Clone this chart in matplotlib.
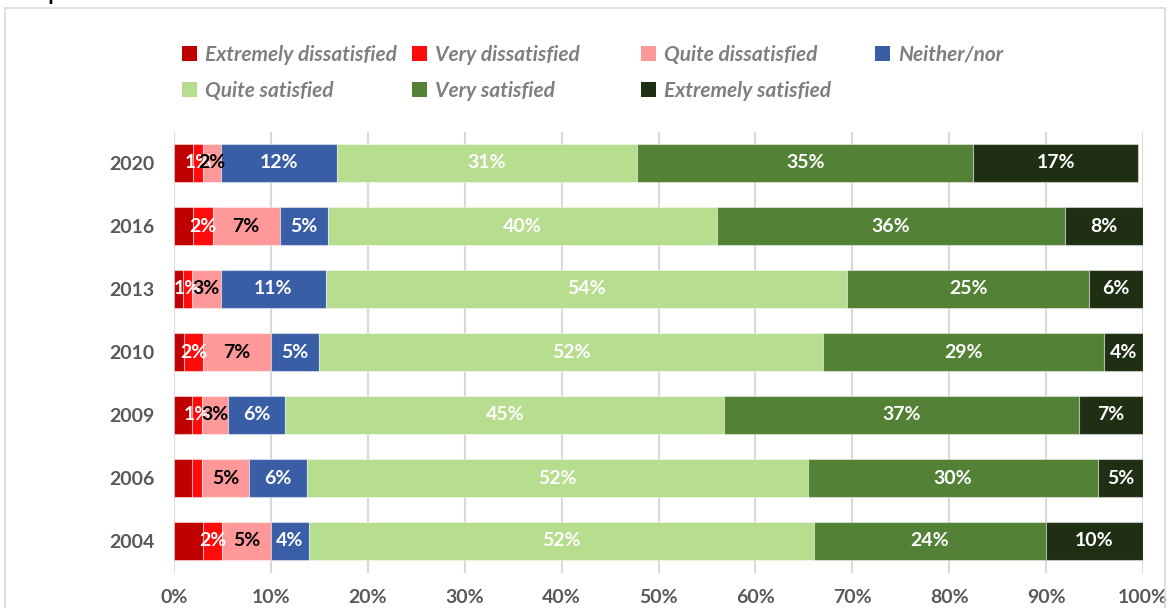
import matplotlib

matplotlib.use("Agg")
import matplotlib.pyplot as plt
from matplotlib.patches import Patch, Rectangle

years = ["2004", "2006", "2009", "2010", "2013", "2016", "2020"]

series_names = [
    "Extremely dissatisfied",
    "Very dissatisfied",
    "Quite dissatisfied",
    "Neither/nor",
    "Quite satisfied",
    "Very satisfied",
    "Extremely satisfied",
]

# shares in %, ordered like years (2004 .. 2020)
extremely_dissatisfied = [3.0, 1.9, 1.9, 1.0, 0.9, 2.0, 2.0]
very_dissatisfied = [2.0, 1.0, 1.0, 2.0, 1.0, 2.0, 1.0]
quite_dissatisfied = [5.0, 4.8, 2.7, 7.0, 2.9, 6.9, 1.9]
neither_nor = [3.9, 6.0, 5.9, 5.0, 10.9, 5.0, 11.9]
quite_satisfied = [52.1, 51.7, 45.3, 52.0, 53.8, 40.1, 31.0]
very_satisfied = [24.0, 30.0, 36.6, 29.0, 24.9, 36.0, 34.7]
extremely_satisfied = [10.0, 4.6, 6.6, 4.0, 5.6, 8.0, 17.0]

values = [
    extremely_dissatisfied,
    very_dissatisfied,
    quite_dissatisfied,
    neither_nor,
    quite_satisfied,
    very_satisfied,
    extremely_satisfied,
]

colors = ["#C00000", "#FF0B0B", "#FF9999", "#3A5EA6", "#B6DE8E", "#538135", "#1F2F14"]
label_colors = [None, "white", "black", "white", "white", "white", "white"]
# labels that are not shown in the original (year, series index)
hidden_labels = {("2006", 1)}

grey = "#595959"
plt.rcParams["font.family"] = ["Lato", "DejaVu Sans"]

fig = plt.figure(figsize=(11.69, 6.08), dpi=100)
ax = fig.add_axes([174 / 1169, 1 - 572.5 / 608, 969 / 1169, 441 / 608])

y = list(range(len(years)))
left = [0.0] * len(years)
for i, (name, vals) in enumerate(zip(series_names, values)):
    bars = ax.barh(
        y, vals, left=left, height=0.59, color=colors[i],
        edgecolor=(1, 1, 1, 0.45), linewidth=0.8, label=name, zorder=3,
    )
    if label_colors[i] is not None:
        for yr, bar, v in zip(years, bars, vals):
            if (yr, i) in hidden_labels:
                continue
            ax.text(
                bar.get_x() + bar.get_width() / 2, bar.get_y() + bar.get_height() / 2,
                f"{v:.0f}%", ha="center", va="center", color=label_colors[i],
                fontsize=14, fontweight="bold", zorder=4,
            )
    left = [l + v for l, v in zip(left, vals)]

ax.set_xlim(0, 100)
ax.set_ylim(-0.5, len(years) - 0.5)
ax.set_xticks(range(0, 101, 10))
ax.set_xticklabels([f"{t}%" for t in range(0, 101, 10)])
ax.set_yticks(y)
ax.set_yticklabels(years)
ax.tick_params(axis="both", length=0, colors=grey, labelsize=14)
ax.tick_params(axis="x", pad=12)
ax.tick_params(axis="y", pad=14)
for lab in ax.get_xticklabels() + ax.get_yticklabels():
    lab.set_fontweight("bold")
ax.grid(axis="x", color="#d9d9d9", linewidth=1.5, zorder=0)
for s in ax.spines.values():
    s.set_visible(False)

# legend laid out in four columns of two rows, like the original
handles = [Patch(facecolor=c) for c in colors]
columns = [(0, 4), (1, 5), (2, 6), (3,)]
col_x = [182, 412, 641, 875]
for cx, col in zip(col_x, columns):
    fig.legend(
        [handles[k] for k in col], [series_names[k] for k in col],
        loc="upper left", bbox_to_anchor=(cx / 1169, 1 - 45 / 608),
        frameon=False, handlelength=0.7, handleheight=0.7, handletextpad=0.4,
        labelspacing=0.75, borderpad=0, borderaxespad=0,
        prop={"size": 15, "weight": "bold", "style": "italic"}, labelcolor="#7F7F7F",
    )

# chart frame and the cut-off heading above it
fig.add_artist(Rectangle((5 / 1169, -0.02), 1160 / 1169, 1.02 - 8 / 608,
                         transform=fig.transFigure, fill=False,
                         edgecolor="#d9d9d9", linewidth=1.2))
fig.text(-0.002, 1 - 0 / 608, "% respondents", ha="left", va="baseline",
         fontsize=15, fontweight="bold", color="black")

fig.savefig("out.png", dpi=100)
